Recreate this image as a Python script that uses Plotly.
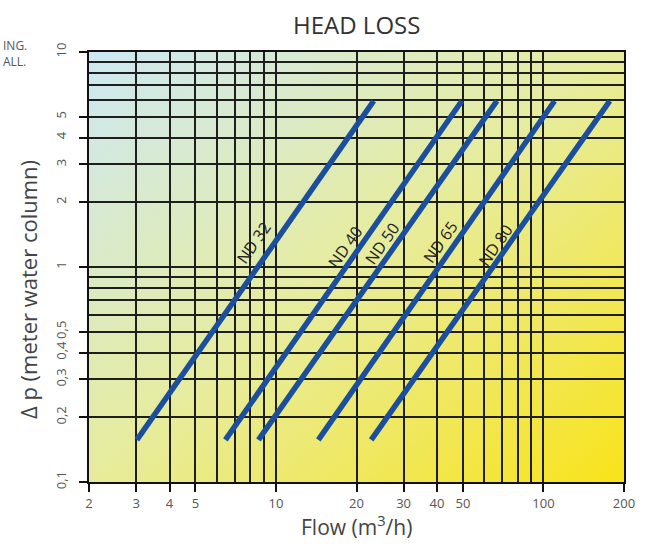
import base64
import math
import plotly.graph_objects as go

# ---- data ----
series_names = ["ND 32", "ND 40", "ND 50", "ND 65", "ND 80"]
flow_start = [3.02, 6.47, 8.6, 14.4, 22.7]
flow_end = [23.2, 49.5, 67.0, 110.0, 177.0]
dp_start = [0.157, 0.157, 0.157, 0.157, 0.157]
dp_end = [5.92, 5.92, 5.92, 5.92, 5.92]
label_flow = [8.25, 18.1, 25.0, 41.1, 66.1]
label_dp = [1.29, 1.24, 1.29, 1.31, 1.27]

x_ticks = [2, 3, 4, 5, 10, 20, 30, 40, 50, 100, 200]
x_ticktext = ["2", "3", "4", "5", "10", "20", "30", "40", "50", "100", "200"]
x_minor = [6, 7, 8, 9, 60, 70, 80, 90]
y_ticks = [0.1, 0.2, 0.3, 0.4, 0.5, 1, 2, 3, 4, 5, 10]
y_ticktext = ["0,1", "0,2", "0,3", "0,4", "0,5", "1", "2", "3", "4", "5", "10"]
y_minor = [0.6, 0.7, 0.8, 0.9, 6, 7, 8, 9]

LINE_COLOR = "#1b4f9e"
GRID = "#1e1e1e"
FONT = "Open Sans"

fig = go.Figure()
for name, x0, x1, y0, y1 in zip(series_names, flow_start, flow_end, dp_start, dp_end):
    fig.add_trace(go.Scatter(x=[x0, x1], y=[y0, y1], mode="lines", name=name,
                             line=dict(color=LINE_COLOR, width=5.5), showlegend=False,
                             hoverinfo="skip"))

for name, lx, ly in zip(series_names, label_flow, label_dp):
    fig.add_annotation(x=math.log10(lx), y=math.log10(ly), xref="x", yref="y",
                       text=name, showarrow=False, textangle=-55,
                       font=dict(family=FONT, size=16, color="#222222"))

svg = ('<svg xmlns="http://www.w3.org/2000/svg" width="200" height="200" '
       'viewBox="0 0 200 200" preserveAspectRatio="none"><defs>'
       '<linearGradient id="g" x1="0" y1="0" x2="1" y2="1">'
       '<stop offset="0" stop-color="#cde8f4"/>'
       '<stop offset="0.5" stop-color="#e7ec9c"/>'
       '<stop offset="1" stop-color="#f9e31a"/>'
       '</linearGradient></defs><rect width="200" height="200" fill="url(#g)"/></svg>')
src = "data:image/svg+xml;base64," + base64.b64encode(svg.encode()).decode()
fig.add_layout_image(dict(source=src, xref="paper", yref="paper", x=0, y=1,
                          sizex=1, sizey=1, xanchor="left", yanchor="top",
                          sizing="stretch", layer="below"))

fig.update_xaxes(type="log", range=[math.log10(2), math.log10(200)],
                 tickmode="array", tickvals=x_ticks, ticktext=x_ticktext,
                 ticks="outside", ticklen=8, tickwidth=1.5, tickcolor="#111",
                 tickfont=dict(family=FONT, size=13, color="#555555"),
                 showgrid=True, gridcolor=GRID, gridwidth=1.5,
                 minor=dict(tickmode="array", tickvals=x_minor, showgrid=True,
                            gridcolor=GRID, gridwidth=1.5, ticks=""),
                 showline=True, linecolor="#111", linewidth=2, mirror=True,
                 zeroline=False)
fig.update_yaxes(type="log", range=[-1, 1],
                 tickmode="array", tickvals=y_ticks, ticktext=y_ticktext,
                 ticks="outside", ticklen=8, tickwidth=1.5, tickcolor="#111",
                 tickangle=-90, ticklabelstandoff=8,
                 tickfont=dict(family=FONT, size=13, color="#555555"),
                 showgrid=True, gridcolor=GRID, gridwidth=1.5,
                 minor=dict(tickmode="array", tickvals=y_minor, showgrid=True,
                            gridcolor=GRID, gridwidth=1.5, ticks=""),
                 showline=True, linecolor="#111", linewidth=2, mirror=True,
                 zeroline=False)

# titles
fig.add_annotation(text="HEAD LOSS", xref="paper", yref="paper", x=0.5, y=1,
                   yshift=28, showarrow=False, xanchor="center", yanchor="middle",
                   font=dict(family=FONT, size=24, color="#333333"))
fig.add_annotation(text="Flow (m<sup>3</sup>/h)", xref="paper", yref="paper", x=0.5, y=0,
                   yshift=-43, showarrow=False, xanchor="center", yanchor="middle",
                   font=dict(family=FONT, size=21, color="#444444"))
fig.add_annotation(text="\u0394 p (meter water column)", xref="paper", yref="paper",
                   x=0, y=0.4465, xshift=-61, showarrow=False, textangle=-90,
                   xanchor="center", yanchor="middle",
                   font=dict(family=FONT, size=22, color="#444444"))
# cropped neighbouring text at the top-left
fig.add_annotation(text="ING.", xref="paper", yref="paper", x=0, y=1, xshift=-88,
                   yshift=7, showarrow=False, xanchor="left", yanchor="middle",
                   font=dict(family=FONT, size=12, color="#555555"))
fig.add_annotation(text="ALL.", xref="paper", yref="paper", x=0, y=1, xshift=-88,
                   yshift=-9, showarrow=False, xanchor="left", yanchor="middle",
                   font=dict(family=FONT, size=12, color="#555555"))

fig.update_layout(width=647, height=547,
                  margin=dict(l=89, r=13, t=52, b=65),
                  paper_bgcolor="white", plot_bgcolor="rgba(0,0,0,0)",
                  showlegend=False)

fig.write_html("out.html", config={"displayModeBar": False},
               post_script="document.body.style.margin='0px';document.body.style.overflow='hidden';")
